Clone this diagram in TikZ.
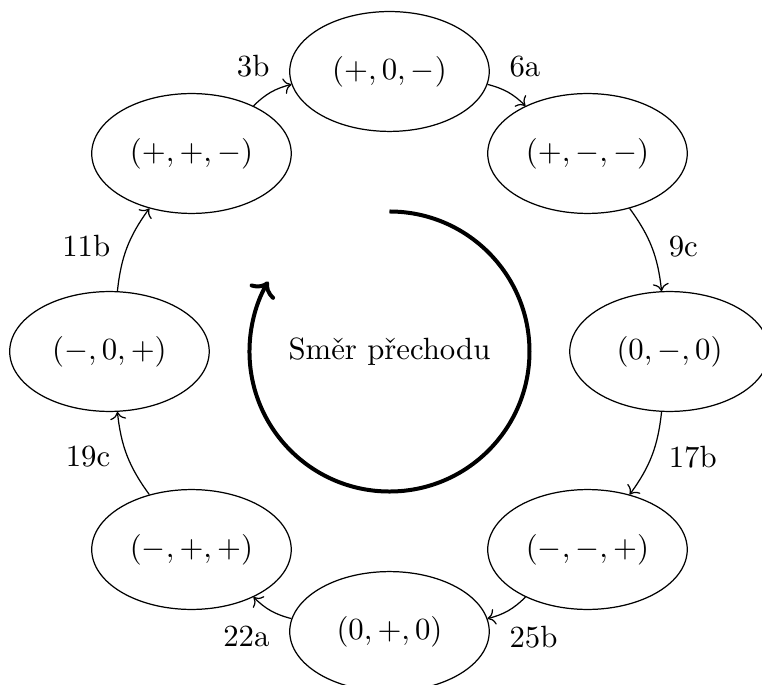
\documentclass[tikz,border=0pt]{standalone}
\usepackage{fontspec}
\usepackage{tikz}
\usetikzlibrary{shapes.geometric,arrows.meta}
\tikzset{
  stState/.style={
    ellipse,
    draw,
    minimum width=2.28cm,
    minimum height=1.37cm,
    inner sep=1pt
  },
  stEdge/.style={
    ->,
    bend left=15
  },
  stDir/.style={
    line width=1.3pt,
    ->
  }
}

\begin{document}
\begin{tikzpicture}[auto]
        \useasboundingbox (-4.451,-3.800) rectangle (4.257,4.017);

        \node (s1) [stState] at (90:3.2) {$(+,0,-)$};
        \node (s2) [stState] at (45:3.2) {$(+,-,-)$};
        \node (s3) [stState] at (0:3.2) {$(0,-,0)$};
        \node (s4) [stState] at (-45:3.2) {$(-,-,+)$};
        \node (s5) [stState] at (-90:3.2) {$(0,+,0)$};
        \node (s6) [stState] at (-135:3.2) {$(-,+,+)$};
        \node (s7) [stState] at (180:3.2) {$(-,0,+)$};
        \node (s8) [stState] at (135:3.2) {$(+,+,-)$};

        \draw [stEdge] (s1) to node [near start] {6a} (s2);
        \draw [stEdge] (s2) to node [near end] {9c} (s3);
        \draw [stEdge] (s3) to node [near start] {17b} (s4);
        \draw [stEdge] (s4) to node [near end] {25b} (s5);
        \draw [stEdge] (s5) to node [near start] {22a} (s6);
        \draw [stEdge] (s6) to node [near end] {19c} (s7);
        \draw [stEdge] (s7) to node [near start] {11b} (s8);
        \draw [stEdge] (s8) to node [near end] {3b} (s1);

        % smer prechodu
        \node (dir) at (0,0) {Směr přechodu};
        \draw [stDir] (90:1.6) arc[start angle=90, end angle=-210, radius=1.6];
      \end{tikzpicture}
\end{document}
